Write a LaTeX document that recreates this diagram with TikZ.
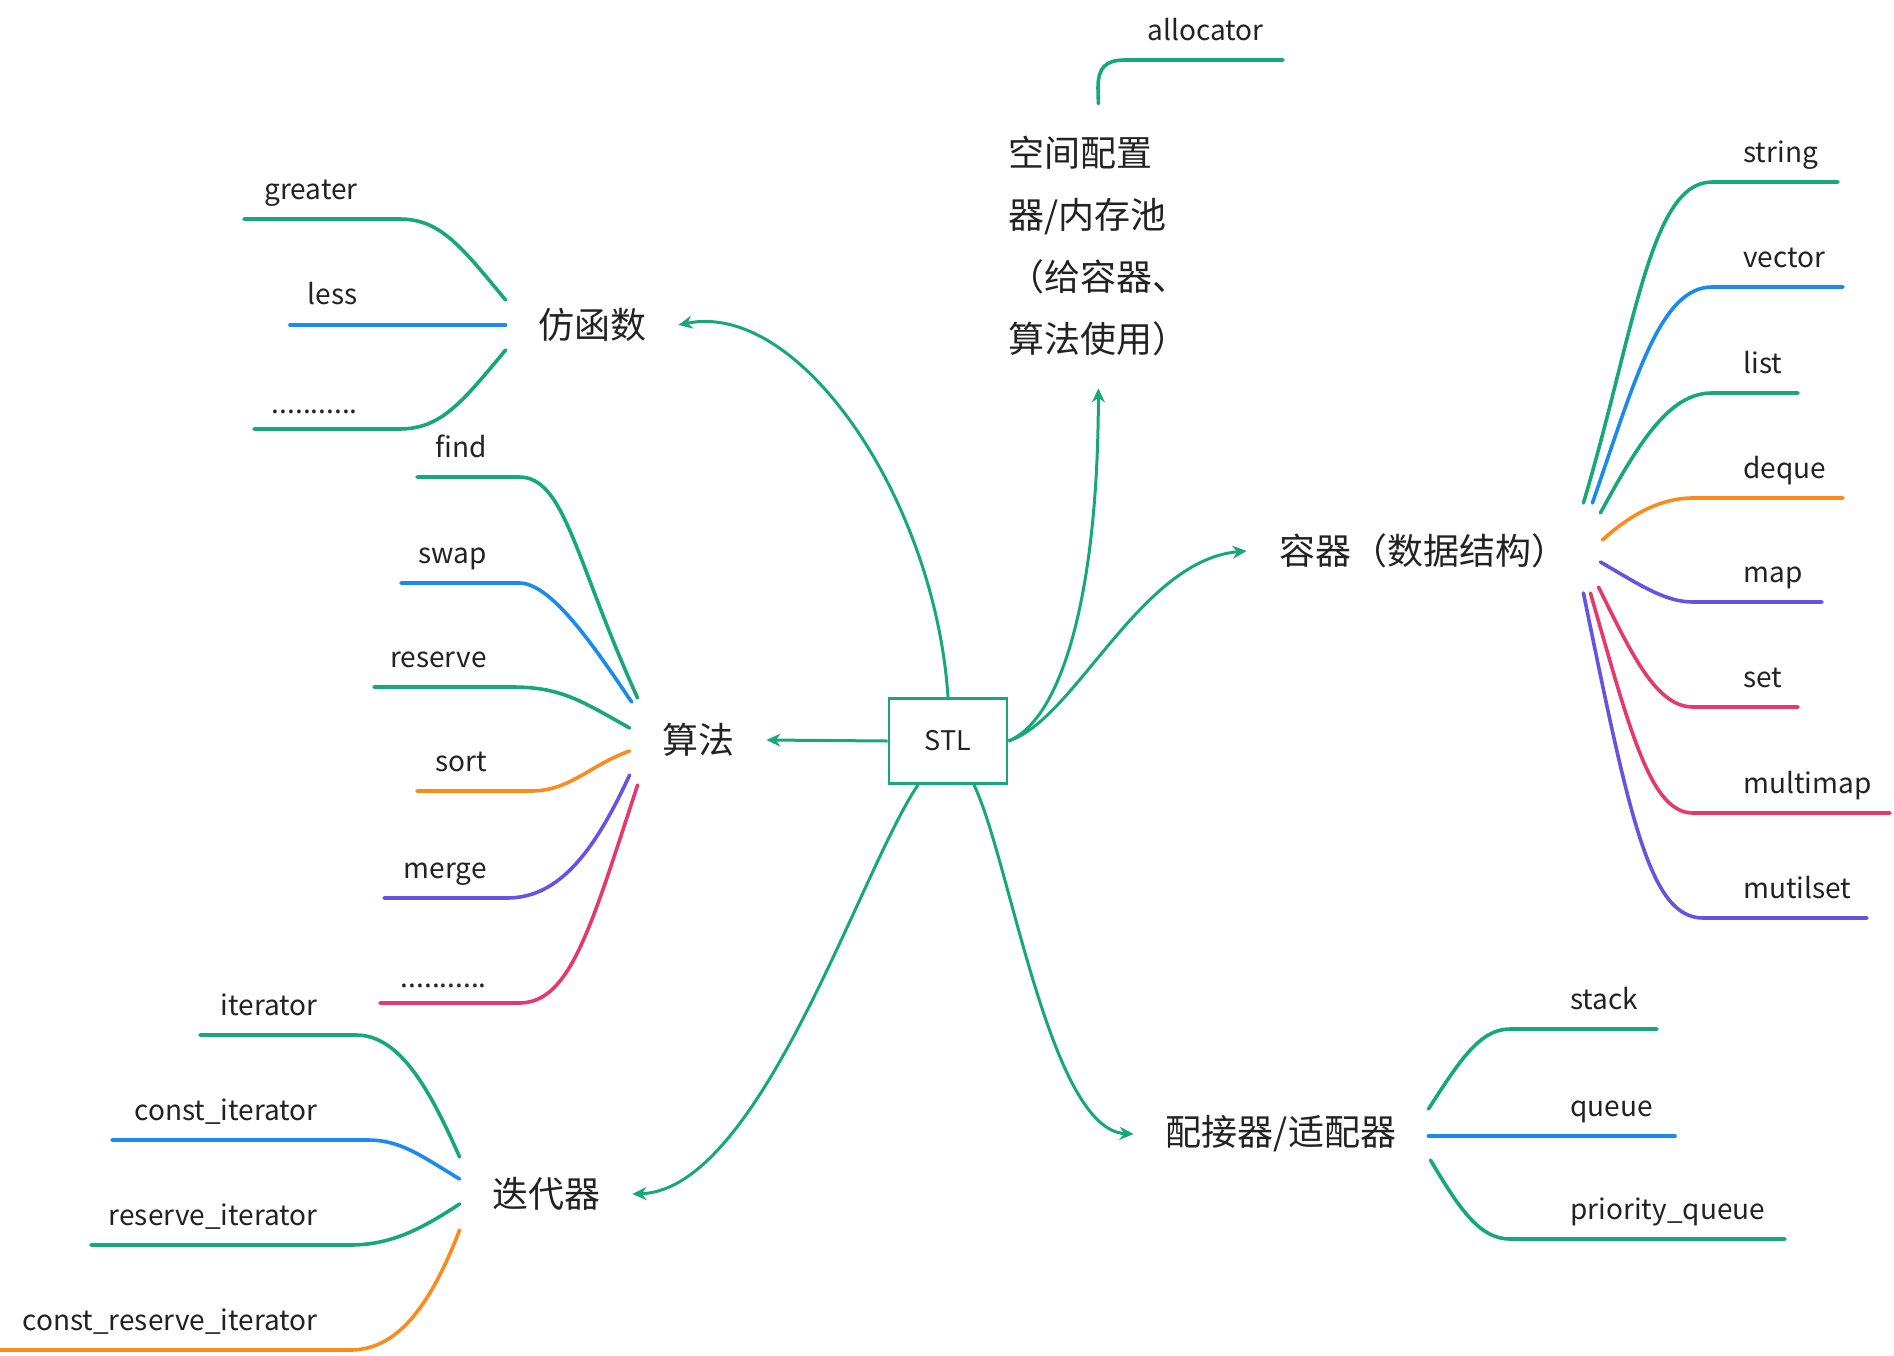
\documentclass[tikz,border=0pt]{standalone}
\usepackage{fontspec}
\setmainfont{Noto Sans CJK SC}
\usetikzlibrary{positioning, arrows.meta, calc}
\definecolor{mmgreen}{HTML}{16A877}
\definecolor{mmblue}{HTML}{1A8AEE}
\definecolor{mmorange}{HTML}{FA8C1E}
\definecolor{mmpurple}{HTML}{6852E2}
\definecolor{mmpink}{HTML}{E6386C}
\definecolor{mmtext}{HTML}{222222}

\begin{document}
\begin{tikzpicture}[x=0.5pt, y=-0.5pt,
    topic/.style={font=\fontsize{18}{31}\selectfont, text=mmtext, inner sep=16pt},
    leafL/.style={font=\fontsize{14}{17}\selectfont, text=mmtext, inner sep=0pt, anchor=base east},
    leafR/.style={font=\fontsize{14}{17}\selectfont, text=mmtext, inner sep=0pt, anchor=base west},
    trunk/.style={draw=mmgreen, line width=1.5pt, -{Stealth[length=7pt, width=6.5pt]}},
    twig/.style={line width=1.8pt, line cap=round}]
  \useasboundingbox (0,0) rectangle (1894,1355);

  \node[draw=mmgreen, line width=1.4pt, minimum width=59pt, minimum height=42.5pt,
        font=\fontsize{13.5}{16}\selectfont, text=mmtext] (stl) at (948,741) {STL};

  \node[topic] (fang) at (592,325) {仿函数};
  \node[topic] (suanfa) at (698,740) {算法};
  \node[topic, align=left, anchor=west] (kongjian) at (976,246)
    {空间配置\\器/内存池\\（给容器、\\算法使用）};
  \node[topic] (rongqi) at (1423,551) {容器（数据结构）};
  \node[topic] (peijie) at (1281,1134) {配接器/适配器};
  \node[topic] (diedai) at (546,1194) {迭代器};

  \draw[trunk] (stl.north) .. controls (935,500) and (800,300) .. (fang.east);
  \draw[trunk] (stl.west) -- (suanfa.east);
  \draw[trunk] (stl.east) .. controls (1060,720) and (1098,600) .. (kongjian.south);
  \draw[trunk] (stl.east) .. controls (1075,720) and (1140,560) .. (rongqi.west);
  \draw[trunk] ($(stl.south)+(-30,0)$) .. controls (860,870) and (760,1190) .. (diedai.east);
  \draw[trunk] ($(stl.south)+(26,0)$) .. controls (1010,860) and (1050,1130) .. (peijie.west);

  \coordinate (allocator-tip) at (1283,60);
  \node[leafR] (allocator) at (1147,40) {allocator};
  \draw[twig, mmgreen] (kongjian.north) -- (1098,88) .. controls (1098,68) and (1105,60) .. (1125,60) -- (allocator-tip);

  \coordinate (greater-tip) at (244,219);
  \coordinate (less-tip) at (290,325);
  \coordinate (fdots-tip) at (254,429);
  \node[leafL] (greater) at (358,199) {greater};
  \node[leafL] (less) at (358,304) {less};
  \node[leafL] (fdots) at (358,413) {...........};
  \draw[twig, mmgreen] ($(fang.west)+(0,-25)$) .. controls (460,245) and (440,219) .. (399,219) -- (greater-tip);
  \draw[twig, mmblue] (fang.west) -- (less-tip);
  \draw[twig, mmgreen] ($(fang.west)+(0,25)$) .. controls (460,405) and (440,429) .. (399,429) -- (fdots-tip);

  \coordinate (find-tip) at (417,477);
  \coordinate (swap-tip) at (401,583);
  \coordinate (reserve-tip) at (374,687);
  \coordinate (sort-tip) at (417,791);
  \coordinate (merge-tip) at (384,898);
  \coordinate (adots-tip) at (380,1003);
  \node[leafL] (find) at (487,457) {find};
  \node[leafL] (swap) at (487,563) {swap};
  \node[leafL] (reserve) at (487,667) {reserve};
  \node[leafL] (sort) at (487,771) {sort};
  \node[leafL] (merge) at (487,878) {merge};
  \node[leafL] (adots) at (487,987) {...........};
  \draw[twig, mmgreen] ($(suanfa.west)+(8,-42)$) .. controls (575,560) and (565,477) .. (519,477) -- (find-tip);
  \draw[twig, mmblue] ($(suanfa.west)+(2,-38)$) .. controls (590,640) and (550,583) .. (519,583) -- (swap-tip);
  \draw[twig, mmgreen] ($(suanfa.west)+(0,-12)$) .. controls (580,700) and (560,687) .. (512,687) -- (reserve-tip);
  \draw[twig, mmorange] ($(suanfa.west)+(0,11)$) .. controls (590,765) and (570,791) .. (531,791) -- (sort-tip);
  \draw[twig, mmpurple] ($(suanfa.west)+(0,35)$) .. controls (595,850) and (560,898) .. (507,898) -- (merge-tip);
  \draw[twig, mmpink] ($(suanfa.west)+(8,45)$) .. controls (590,930) and (570,1003) .. (519,1003) -- (adots-tip);

  \coordinate (iter-tip) at (200,1035);
  \coordinate (citer-tip) at (112,1140);
  \coordinate (riter-tip) at (91,1245);
  \coordinate (criter-tip) at (0,1350);
  \node[leafL] (iter) at (318,1015) {iterator};
  \node[leafL] (citer) at (318,1120) {const\_iterator};
  \node[leafL] (riter) at (318,1225) {reserve\_iterator};
  \node[leafL] (criter) at (318,1330) {const\_reserve\_iterator};
  \draw[twig, mmgreen] ($(diedai.west)+(0,-37)$) .. controls (430,1090) and (400,1035) .. (356,1035) -- (iter-tip);
  \draw[twig, mmblue] ($(diedai.west)+(0,-15)$) .. controls (420,1155) and (400,1140) .. (368,1140) -- (citer-tip);
  \draw[twig, mmgreen] ($(diedai.west)+(0,10)$) .. controls (420,1230) and (390,1245) .. (350,1245) -- (riter-tip);
  \draw[twig, mmorange] ($(diedai.west)+(0,36)$) .. controls (425,1320) and (390,1350) .. (350,1350) -- (criter-tip);

  \coordinate (string-tip) at (1838,182);
  \coordinate (vector-tip) at (1843,287);
  \coordinate (list-tip) at (1798,393);
  \coordinate (deque-tip) at (1843,498);
  \coordinate (map-tip) at (1822,602);
  \coordinate (set-tip) at (1798,707);
  \coordinate (multimap-tip) at (1890,813);
  \coordinate (mutilset-tip) at (1867,918);
  \node[leafR] (string) at (1743,162) {string};
  \node[leafR] (vector) at (1743,267) {vector};
  \node[leafR] (list) at (1743,373) {list};
  \node[leafR] (deque) at (1743,478) {deque};
  \node[leafR] (map) at (1743,582) {map};
  \node[leafR] (set) at (1743,687) {set};
  \node[leafR] (multimap) at (1743,793) {multimap};
  \node[leafR] (mutilset) at (1743,898) {mutilset};
  \draw[twig, mmgreen] ($(rongqi.east)+(-16,-48)$) .. controls (1635,330) and (1650,182) .. (1712,182) -- (string-tip);
  \draw[twig, mmblue] ($(rongqi.east)+(-7,-48)$) .. controls (1635,380) and (1660,287) .. (1712,287) -- (vector-tip);
  \draw[twig, mmgreen] ($(rongqi.east)+(1,-38)$) .. controls (1640,440) and (1670,393) .. (1712,393) -- (list-tip);
  \draw[twig, mmorange] ($(rongqi.east)+(3,-11)$) .. controls (1630,515) and (1660,498) .. (1693,498) -- (deque-tip);
  \draw[twig, mmpurple] ($(rongqi.east)+(1,11)$) .. controls (1640,585) and (1665,602) .. (1693,602) -- (map-tip);
  \draw[twig, mmpink] ($(rongqi.east)+(-1,36)$) .. controls (1630,650) and (1655,707) .. (1693,707) -- (set-tip);
  \draw[twig, mmpink] ($(rongqi.east)+(-9,42)$) .. controls (1630,730) and (1650,813) .. (1693,813) -- (multimap-tip);
  \draw[twig, mmpurple] ($(rongqi.east)+(-16,42)$) .. controls (1630,820) and (1650,918) .. (1703,918) -- (mutilset-tip);

  \coordinate (stack-tip) at (1657,1029);
  \coordinate (queue-tip) at (1675,1136);
  \coordinate (pqueue-tip) at (1785,1239);
  \node[leafR] (stack) at (1570,1009) {stack};
  \node[leafR] (queue) at (1570,1116) {queue};
  \node[leafR] (pqueue) at (1570,1219) {priority\_queue};
  \draw[twig, mmgreen] ($(peijie.east)+(0,-25)$) .. controls (1460,1060) and (1480,1029) .. (1510,1029) -- (stack-tip);
  \draw[twig, mmblue] ($(peijie.east)+(0,2)$) -- (queue-tip);
  \draw[twig, mmgreen] ($(peijie.east)+(2,26)$) .. controls (1460,1210) and (1480,1239) .. (1510,1239) -- (pqueue-tip);
\end{tikzpicture}
\end{document}
